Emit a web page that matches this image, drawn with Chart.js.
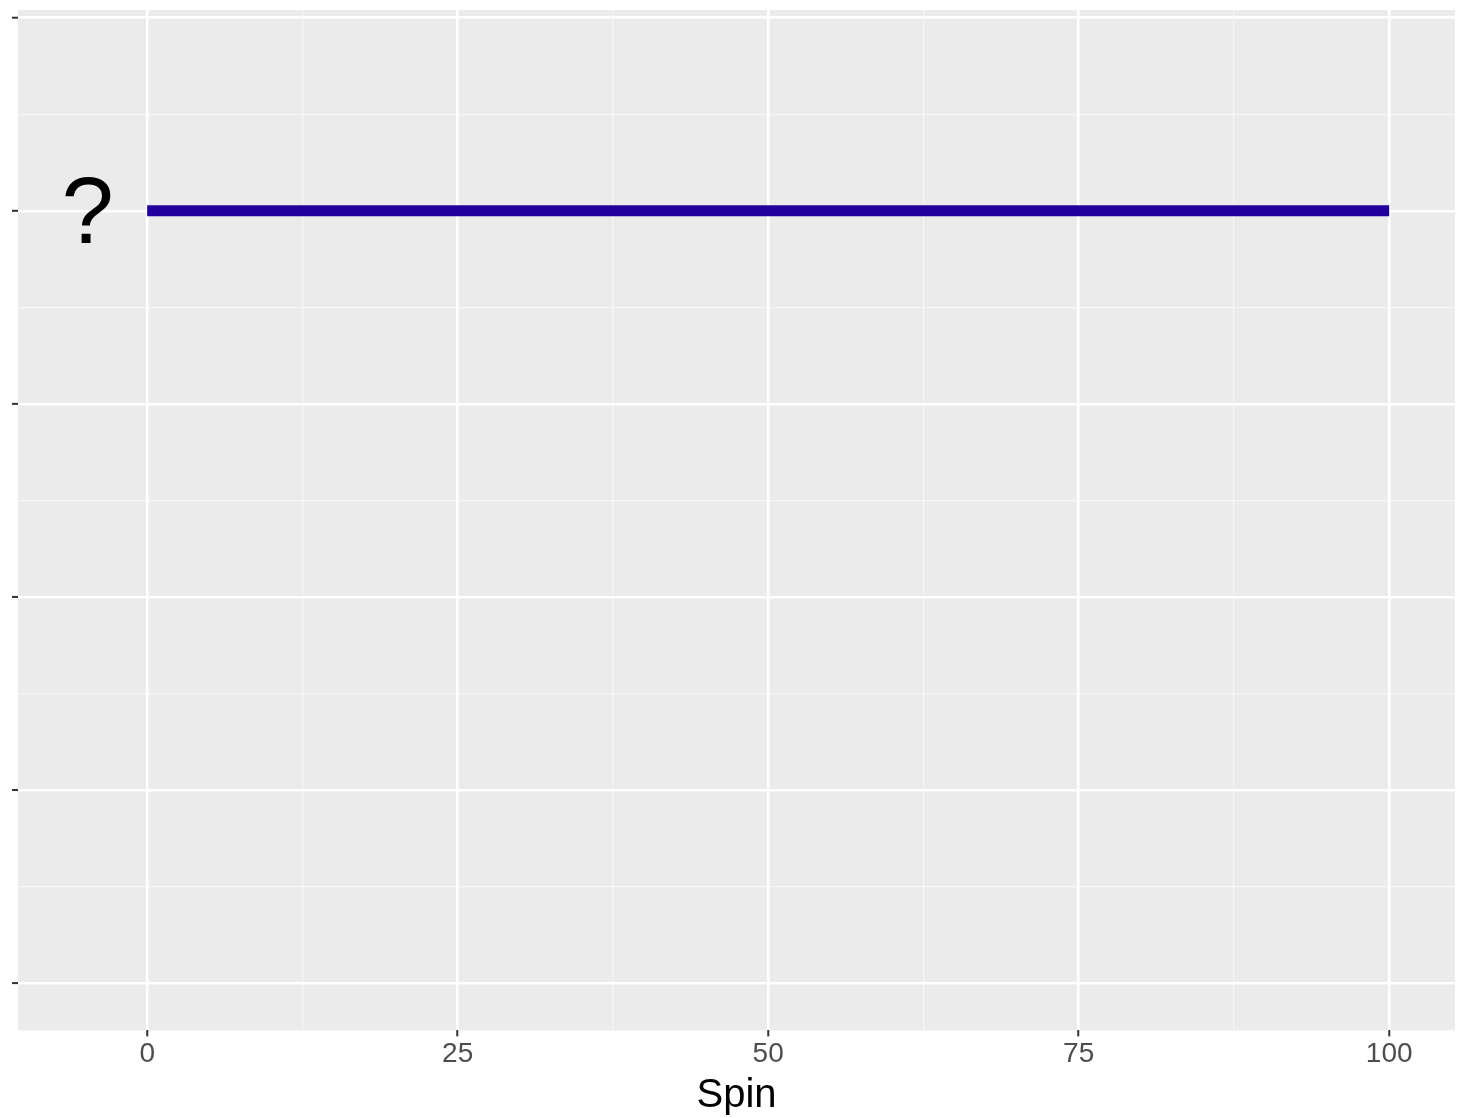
<!DOCTYPE html>
<html>
<head>
<meta charset="utf-8">
<script src="https://cdn.jsdelivr.net/npm/chart.js@4"></script>
<style>
  html, body { margin: 0; padding: 0; background: #fff; }
  #wrap { width: 1458px; height: 1118px; }
</style>
</head>
<body>
<div id="wrap"><canvas id="c"></canvas></div>
<script>
// データ
const spinValues = [0, 100];
const lineValues = [4, 4];
const xTickLabels = [0, 25, 50, 75, 100];
const yMajorTicks = [0, 1, 2, 3, 4, 5];
const labelText = '?';
const labelPos = { x: -4.8, y: 4 };

// パネル背景と左の目盛り、"?" の描画
const ggPlugin = {
  id: 'gg',
  beforeDraw(chart) {
    const { ctx, chartArea: a } = chart;
    ctx.save();
    ctx.fillStyle = '#ebebeb';
    ctx.fillRect(a.left, a.top, a.right - a.left, a.bottom - a.top);
    ctx.restore();
  },
  afterDraw(chart) {
    const { ctx, chartArea: a, scales } = chart;
    ctx.save();
    ctx.strokeStyle = '#333';
    ctx.lineWidth = 2;
    yMajorTicks.forEach(v => {
      const y = scales.y.getPixelForValue(v);
      ctx.beginPath();
      ctx.moveTo(a.left - 6, y);
      ctx.lineTo(a.left, y);
      ctx.stroke();
    });
    ctx.fillStyle = '#000';
    ctx.font = '94px "Liberation Sans", Arial, sans-serif';
    ctx.textAlign = 'center';
    ctx.textBaseline = 'middle';
    ctx.fillText(labelText, scales.x.getPixelForValue(labelPos.x), scales.y.getPixelForValue(labelPos.y) + 6);
    ctx.restore();
  }
};

const isMajorX = v => xTickLabels.includes(v);
const isMajorY = v => yMajorTicks.includes(v);

new Chart(document.getElementById('c'), {
  type: 'line',
  data: {
    datasets: [{
      data: spinValues.map((x, i) => ({ x, y: lineValues[i] })),
      borderColor: '#22009e',
      borderWidth: 11,
      borderCapStyle: 'butt',
      pointRadius: 0,
      fill: false
    }]
  },
  plugins: [ggPlugin],
  options: {
    responsive: true,
    maintainAspectRatio: false,
    animation: false,
    layout: { padding: { left: 18, right: 3, top: 10, bottom: -2 } },
    plugins: { legend: { display: false }, tooltip: { enabled: false } },
    scales: {
      x: {
        type: 'linear',
        min: -10.4,
        max: 105.3,
        afterBuildTicks: s => {
          const t = [];
          for (let v = 0; v <= 100; v += 12.5) t.push({ value: v });
          s.ticks = t;
        },
        border: { display: false },
        grid: {
          color: c => isMajorX(c.tick.value) ? '#ffffff' : 'rgba(255,255,255,0.6)',
          lineWidth: c => isMajorX(c.tick.value) ? 2.5 : 1.2,
          tickColor: c => isMajorX(c.tick.value) ? '#333' : 'rgba(0,0,0,0)',
          tickLength: 6,
          tickWidth: 2
        },
        ticks: {
          autoSkip: false,
          maxRotation: 0,
          color: '#4d4d4d',
          font: { size: 28, family: '"Liberation Sans", Arial, sans-serif' },
          padding: 1,
          callback: v => isMajorX(v) ? String(v) : ''
        },
        title: {
          display: true,
          text: 'Spin',
          color: '#000',
          font: { size: 40, family: '"Liberation Sans", Arial, sans-serif' },
          padding: { top: 0, bottom: 0 }
        }
      },
      y: {
        type: 'linear',
        min: -0.245,
        max: 5.04,
        afterBuildTicks: s => {
          const t = [];
          for (let v = -0.5; v <= 5.5; v += 0.5) if (v >= s.min && v <= s.max) t.push({ value: v });
          s.ticks = t;
        },
        border: { display: false },
        grid: {
          color: c => isMajorY(c.tick.value) ? '#ffffff' : 'rgba(255,255,255,0.6)',
          lineWidth: c => isMajorY(c.tick.value) ? 2.5 : 1.2,
          drawTicks: false
        },
        ticks: { display: false }
      }
    }
  }
});
</script>
</body>
</html>
